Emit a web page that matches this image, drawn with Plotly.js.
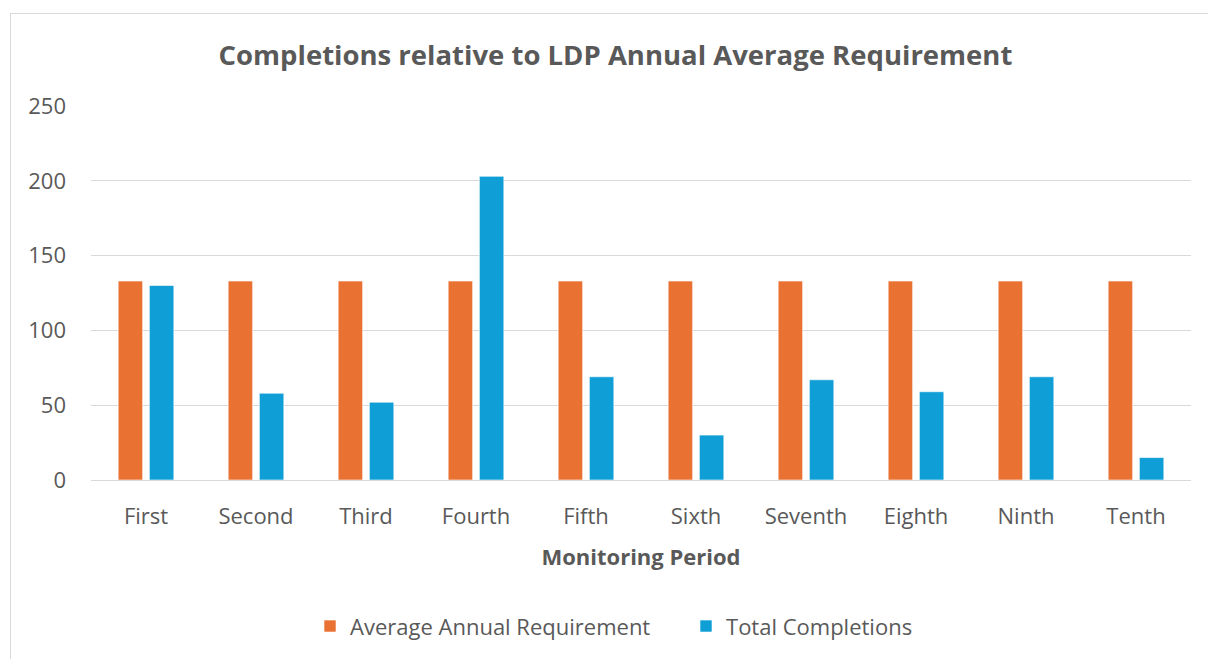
<!DOCTYPE html>
<html>
<head>
<meta charset="utf-8">
<script src="https://cdn.plot.ly/plotly-3.0.1.min.js"></script>
<style>
  html, body { margin: 0; padding: 0; background: #ffffff; overflow: hidden; }
  #frame { position: absolute; left: 10px; top: 13px; width: 1300px; height: 700px;
           border-left: 1px solid #d9d9d9; border-top: 1px solid #d9d9d9; pointer-events: none; }
  #chart { position: absolute; left: 0; top: 0; width: 1208px; height: 659px; }
</style>
</head>
<body>
<div id="chart"></div>
<div id="frame"></div>
<script>
// Monitoring periods and their figures
const periods = ["First", "Second", "Third", "Fourth", "Fifth", "Sixth", "Seventh", "Eighth", "Ninth", "Tenth"];
const averageAnnualRequirement = [133, 133, 133, 133, 133, 133, 133, 133, 133, 133];
const totalCompletions = [130, 58, 52, 203, 69, 30, 67, 59, 69, 15];
const yTicks = [0, 50, 100, 150, 200, 250];

const textColor = "#595959";
const fontFamily = "'Open Sans', 'Noto Sans', sans-serif";

const traces = [
  {
    type: "bar",
    name: "Average Annual Requirement",
    x: periods,
    y: averageAnnualRequirement,
    marker: { color: "#E97132", line: { color: "rgba(255,255,255,0.6)", width: 1 } },
    hoverinfo: "x+y+name"
  },
  {
    type: "bar",
    name: "Total Completions",
    x: periods,
    y: totalCompletions,
    marker: { color: "#0F9ED5", line: { color: "rgba(255,255,255,0.6)", width: 1 } },
    hoverinfo: "x+y+name"
  }
];

const layout = {
  width: 1208,
  height: 659,
  paper_bgcolor: "rgba(0,0,0,0)",
  plot_bgcolor: "#ffffff",
  margin: { l: 91, r: 17, t: 106, b: 177 },
  barmode: "group",
  bargap: 0.433,
  bargroupgap: 0.215,
  font: { family: fontFamily, color: textColor, size: 22 },
  title: {
    text: "<b>Completions relative to LDP Annual Average Requirement</b>",
    font: { family: fontFamily, size: 27.5, color: textColor },
    x: 0.5095,
    xanchor: "center",
    y: 0.9165,
    yanchor: "middle"
  },
  xaxis: {
    type: "category",
    showgrid: false,
    showline: false,
    zeroline: false,
    ticks: "",
    ticklabelstandoff: 21,
    tickfont: { size: 22, color: textColor },
    title: {
      text: "<b>Monitoring Period</b>",
      font: { size: 22, color: textColor },
      standoff: 20
    }
  },
  yaxis: {
    range: [0, 250],
    tickvals: yTicks,
    ticktext: yTicks.map(String),
    showgrid: true,
    gridcolor: "#d9d9d9",
    gridwidth: 1,
    zeroline: true,
    zerolinecolor: "#d9d9d9",
    zerolinewidth: 1,
    showline: false,
    ticks: "",
    ticklabelstandoff: 24,
    tickfont: { size: 22, color: textColor }
  },
  legend: {
    orientation: "h",
    x: 0.1991,
    xanchor: "left",
    y: -0.391,
    yanchor: "middle",
    font: { size: 22, color: textColor },
    itemwidth: 30,
    entrywidth: 331,
    entrywidthmode: "pixels",
    traceorder: "normal"
  },
  showlegend: true
};

Plotly.newPlot("chart", traces, layout, { displayModeBar: false, responsive: false });
</script>
</body>
</html>
